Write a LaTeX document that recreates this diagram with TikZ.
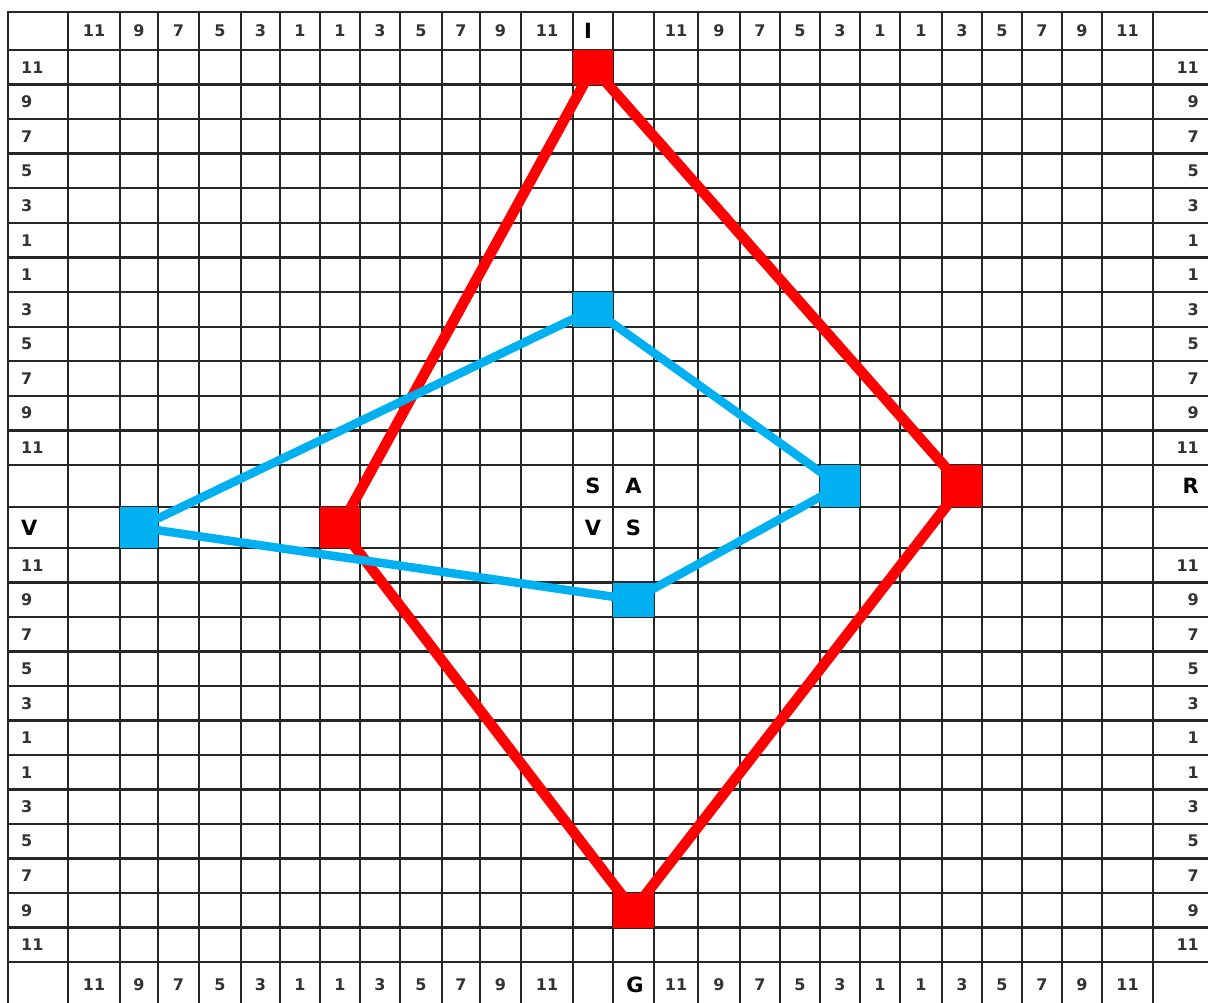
\documentclass[tikz,border=0pt]{standalone}
\usepackage{fontspec}
\setmainfont{DejaVu Sans}
\definecolor{skyblue}{HTML}{00B0F0}
\pgfdeclarelayer{gridlayer}
\pgfdeclarelayer{linelayer}
\pgfsetlayers{gridlayer,linelayer,main}
\begin{document}
\begin{tikzpicture}[x=1pt,y=-1pt,
  gridline/.style={line width=2.4pt, black!85, line cap=rect},
  num/.style={font=\bfseries\fontsize{16}{16}\selectfont, inner sep=0pt, text=black!80},
  letter/.style={font=\bfseries\fontsize{21}{21}\selectfont, inner sep=0pt, text=black},
  redsq/.style={fill=red, draw=none, inner sep=0pt},
  bluesq/.style={fill=skyblue, draw=none, inner sep=0pt},
  redline/.style={draw=red, line width=10.5pt, line join=round},
  blueline/.style={draw=skyblue, line width=8.5pt, line join=round}]
\useasboundingbox (0,0) rectangle (1208,1003);
\begin{pgfonlayer}{gridlayer}
  \fill[white] (0,0) rectangle (1208,1003);
  \foreach \x in {8,68,120,158,199,241,280,320,360,400,442,480,521,573,613,654,698,740,780,820,860,900,942,982,1022,1062,1102,1153}
    \draw[gridline] (\x,12) -- (\x,1010);
  \foreach \y in {12,50,84.6,119.2,153.7,188.3,222.9,257.5,292.1,326.7,361.2,395.8,430.4,465,507,548,582.5,617,651.5,686,720.5,755,789.5,824,858.5,893,927.5,962}
    \draw[gridline] (8,\y) -- (1215,\y);
\end{pgfonlayer}

% squares
\node[redsq, minimum width=40pt, minimum height=34.6pt] (rI) at (593,67.3) {};
\node[redsq, minimum width=40pt, minimum height=42pt] (rR) at (962,486) {};
\node[redsq, minimum width=41pt, minimum height=34.5pt] (rG) at (633.5,910.25) {};
\node[redsq, minimum width=40pt, minimum height=41pt] (rV) at (340,527.5) {};
\node[bluesq, minimum width=40pt, minimum height=34.6pt] (bT) at (593,309.4) {};
\node[bluesq, minimum width=40pt, minimum height=42pt] (bR) at (840,486) {};
\node[bluesq, minimum width=41pt, minimum height=34.5pt] (bB) at (633.5,599.75) {};
\node[bluesq, minimum width=38pt, minimum height=41pt] (bL) at (139,527.5) {};

\begin{pgfonlayer}{linelayer}
  \draw[redline] (rI.center) -- (rR.center) -- (rG.center) -- (rV.center) -- cycle;
  \draw[blueline] (bT.center) -- (bR.center) -- (bB.center) -- (bL.center) -- cycle;
\end{pgfonlayer}

% header and footer numbers
\foreach \x/\t [count=\i] in {94/11,139/9,178.5/7,220/5,260.5/3,300/1,340/1,380/3,421/5,461/7,500.5/9,547/11,676/11,719/9,760/7,800/5,840/3,880/1,921/1,962/3,1002/5,1042/7,1082/9,1127.5/11}
{
  \node[num] (top\i) at (\x,31) {\t};
  \node[num] (bot\i) at (\x,985) {\t};
}
% side numbers
\foreach \y/\t [count=\i] in {67.3/11,101.9/9,136.45/7,171/5,205.6/3,240.2/1,274.8/1,309.4/3,343.95/5,378.5/7,413.1/9,447.7/11,565.25/11,599.75/9,634.25/7,668.75/5,703.25/3,737.75/1,772.25/1,806.75/3,841.25/5,875.75/7,910.25/9,944.75/11}
{
  \node[num, anchor=west] (lf\i) at (21,\y) {\t};
  \node[num, anchor=east] (rt\i) at (1199,\y) {\t};
}

% letters
\node[letter] (lI) at (588,31) {I};
\node[letter] (lG) at (635,985) {G};
\node[letter, anchor=east] (lR) at (1199,486) {R};
\node[letter, anchor=west] (lV) at (21,527.5) {V};
\node[letter] (cS1) at (593,486) {S};
\node[letter] (cA) at (633.5,486) {A};
\node[letter] (cV) at (593,527.5) {V};
\node[letter] (cS2) at (633.5,527.5) {S};
\end{tikzpicture}
\end{document}
